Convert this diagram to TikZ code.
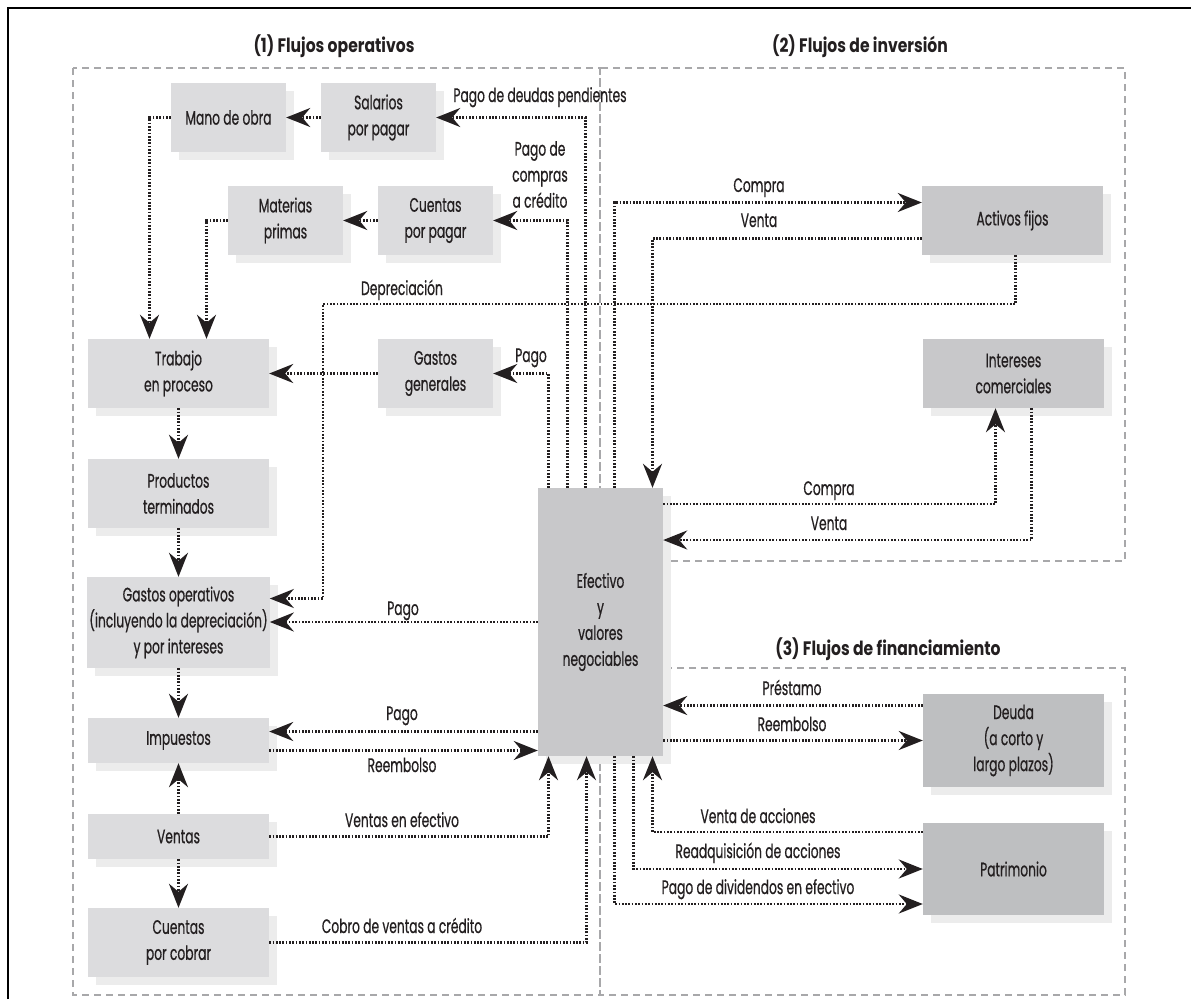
\documentclass[tikz,border=0pt]{standalone}
\usepackage{fontspec}
\setmainfont{Poppins}[FakeStretch=0.63,FakeBold=0.6]
\newfontfamily\titlefont{Poppins}[FakeStretch=0.8]
\usepackage{tikz}
\usetikzlibrary{arrows.meta,calc,positioning,shadows}

\definecolor{boxlight}{HTML}{DCDCDE}
\definecolor{boxmid}{HTML}{C8C8CA}
\definecolor{boxdark}{HTML}{BEBFC1}
\definecolor{boxshade}{HTML}{ECECEC}
\definecolor{zonegray}{HTML}{A8A8AA}
\definecolor{ink}{HTML}{231F20}

\begin{document}
\begin{tikzpicture}[x=1pt,y=-1pt,
  txt/.style={font=\fontsize{19.5}{26}\selectfont,text=ink},
  box/.style={txt,align=center,inner sep=2pt,
    drop shadow={shadow xshift=8pt,shadow yshift=-8pt,fill=boxshade,opacity=1}},
  opbox/.style={box,fill=boxlight,minimum width=115pt,minimum height=69pt},
  widebox/.style={box,fill=boxlight,minimum width=181pt,minimum height=69pt},
  invbox/.style={box,fill=boxmid,minimum width=181pt,minimum height=69pt},
  finbox/.style={box,fill=boxdark,minimum width=181pt,minimum height=92pt},
  flow/.style={draw=ink,line width=2.6pt,dash pattern=on 1.7pt off 1.6pt,
    -{Stealth[length=24pt,width=19pt,inset=8pt]}},
  zone/.style={draw=zonegray,line width=1.6pt,dash pattern=on 7pt off 5pt},
  lbl/.style={txt,inner sep=0pt,anchor=base},
  ttl/.style={font=\titlefont\bfseries\fontsize{19.5}{22}\selectfont,text=ink,inner sep=0pt,anchor=base}]
  \useasboundingbox (0,0) rectangle (1191,999);

  % Frame
  \draw[line width=2.5pt] (8,999) -- (8,8) -- (1191,8);

  % Zones
  \draw[zone] (73,68) rectangle (600,995);
  \draw[zone] (600,68) rectangle (1125,561);
  \draw[zone] (600,668) rectangle (1125,995);
  \node[ttl] (t1) at (334,52) {(1) Flujos operativos};
  \node[ttl] (t2) at (860,52) {(2) Flujos de inversión};
  \node[ttl] (t3) at (888,655) {(3) Flujos de financiamiento};

  % Operating nodes
  \node[opbox] (mano) at (228.5,117.5) {Mano de obra};
  \node[opbox] (salarios) at (378.5,117.5) {Salarios\\por pagar};
  \node[opbox] (materias) at (285.5,220.5) {Materias\\primas};
  \node[opbox] (ctaspagar) at (435.5,220.5) {Cuentas\\por pagar};
  \node[widebox] (trabajo) at (178.5,373.5) {Trabajo\\en proceso};
  \node[opbox] (gastosgen) at (435.5,373.5) {Gastos\\generales};
  \node[widebox] (productos) at (178.5,493.5) {Productos\\terminados};
  \node[widebox,minimum height=91pt] (gastosop) at (178.5,622.5)
    {Gastos operativos\\(incluyendo la depreciación)\\y por intereses};
  \node[widebox,minimum height=45pt] (impuestos) at (178.5,740.5) {Impuestos};
  \node[widebox,minimum height=45pt] (ventas) at (178.5,836.5) {Ventas};
  \node[widebox] (ctascobrar) at (178.5,942.5) {Cuentas\\por cobrar};

  % Cash
  \node[box,fill=boxmid,minimum width=125pt,minimum height=268pt] (ef) at (600.5,622)
    {Efectivo\\y\\valores\\negociables};

  % Investment and financing nodes
  \node[invbox] (activos) at (1012.5,220.5) {Activos fijos};
  \node[invbox] (intereses) at (1013.5,373.5) {Intereses\\comerciales};
  \node[finbox,minimum height=93pt] (deuda) at (1013.5,740.5) {Deuda\\(a corto y\\largo plazos)};
  \node[finbox] (patrimonio) at (1013.5,869) {Patrimonio};

  % Operating flows
  \draw[flow] ([xshift=-15pt]ef.north) |- (salarios.east);
  \draw[flow] ([xshift=-33pt]ef.north) |- (ctaspagar.east);
  \draw[flow] ([xshift=-52pt]ef.north) |- (gastosgen.east);
  \draw[flow] (salarios) -- (mano);
  \draw[flow] (ctaspagar) -- (materias);
  \draw[flow] (gastosgen) -- (trabajo);
  \draw[flow] (mano.west) -| ([xshift=-29pt]trabajo.north);
  \draw[flow] (materias.west) -| ([xshift=28pt]trabajo.north);
  \draw[flow] (trabajo) -- (productos);
  \draw[flow] (productos) -- (gastosop);
  \draw[flow] (gastosop) -- (impuestos);
  \draw[flow] (ventas) -- (impuestos);
  \draw[flow] (ventas) -- (ctascobrar);
  \coordinate (dep) at (323,304);
  \draw[flow] ([xshift=3pt]activos.south) |- (dep) |- ([yshift=24pt]gastosop.east);
  \draw[flow] (ef.west) -- (ef.west -| gastosop.east);
  \draw[flow] ([yshift=9pt]impuestos.east -| ef.west) -- ([yshift=9pt]impuestos.east);
  \draw[flow] ([yshift=-10pt]impuestos.east) -- ([yshift=-10pt]impuestos.east -| ef.west);
  \draw[flow] (ventas.east) -| ([xshift=-52pt]ef.south);
  \draw[flow] (ctascobrar.east) -| ([xshift=-14pt]ef.south);

  % Investment flows
  \draw[flow] ([xshift=14pt]ef.north) |- ([yshift=18pt]activos.west);
  \draw[flow] ([yshift=-18pt]activos.west) -| ([xshift=52pt]ef.north);
  \draw[flow] ([yshift=118pt]ef.east) -| ([xshift=-18pt]intereses.south);
  \draw[flow] ([xshift=18pt]intereses.south) |- ([yshift=82pt]ef.east);

  % Financing flows
  \draw[flow] ([yshift=35pt]deuda.west) -- ([yshift=35pt]deuda.west -| ef.east);
  \draw[flow] (ef.east |- deuda.west) -- (deuda.west);
  \draw[flow] ([yshift=37pt]patrimonio.west) -| ([xshift=52pt]ef.south);
  \draw[flow] ([xshift=33pt]ef.south) |- (patrimonio.west);
  \draw[flow] ([xshift=14pt]ef.south) |- ([yshift=-35pt]patrimonio.west);

  % Labels
  \node[lbl] (lsal) at (540,102) {Pago de deudas pendientes};
  \node[lbl,align=center,anchor=north] (lcred) at (540,141) {Pago de\\compras\\a crédito};
  \node[lbl] (ldep) at (402,295) {Depreciación};
  \node[lbl] (lgen) at (531,362) {Pago};
  \node[lbl] (lop) at (403,615) {Pago};
  \node[lbl] (limp) at (402,720) {Pago};
  \node[lbl] (lreimp) at (402,772) {Reembolso};
  \node[lbl] (lvent) at (402,827) {Ventas en efectivo};
  \node[lbl] (lcob) at (402,933) {Cobro de ventas a crédito};
  \node[lbl] (lcompa) at (759,192) {Compra};
  \node[lbl] (lventa) at (759,227) {Venta};
  \node[lbl] (lcompi) at (829,495) {Compra};
  \node[lbl] (lventi) at (829,530) {Venta};
  \node[lbl] (lprest) at (792,695) {Préstamo};
  \node[lbl] (lreem) at (792,731) {Reembolso};
  \node[lbl] (lvacc) at (758,823) {Venta de acciones};
  \node[lbl] (lreacc) at (758,858) {Readquisición de acciones};
  \node[lbl] (ldiv) at (758,894) {Pago de dividendos en efectivo};
\end{tikzpicture}
\end{document}
